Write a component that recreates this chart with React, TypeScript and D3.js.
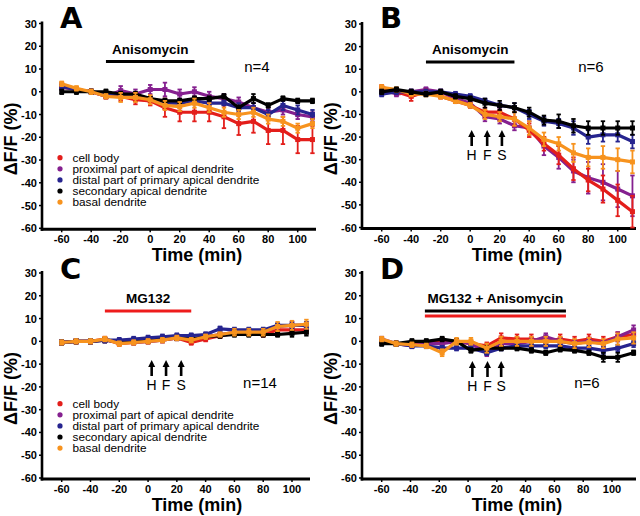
import React from "react";
import * as d3 from "d3";

const TIMES = [-60, -50, -40, -30, -20, -10, 0, 10, 20, 30, 40, 50, 60, 70, 80, 90, 100, 110];
const TIMES_D = [-60, -50, -39, -29, -18, -8, 2, 13, 23, 34, 44, 54, 64, 74, 84, 94, 104, 115];
const X_TICKS = [-60, -40, -20, 0, 20, 40, 60, 80, 100];
const Y_TICKS = [30, 20, 10, 0, -10, -20, -30, -40, -50, -60];

const SERIES_NAMES = [
  "cell body",
  "proximal part of apical dendrite",
  "distal part of primary apical dendrite",
  "secondary apical dendrite",
  "basal dendrite",
];
const SERIES_COLORS = ["#e31e1b", "#85208f", "#26248f", "#000000", "#f7931e"];

// Panel A
const A_CELL = [2, 1, 0, -2, -2, -3.5, -4, -7, -9, -9, -9, -11, -14, -13, -17, -17, -21, -21];
const A_PROX = [3, 1, 0, -2, 0.5, -1, 1, 1, -1, 0, -2, -3, -4.5, -7, -9, -8, -10, -11];
const A_DIST = [2, 1, 0, -1, -1, -2, -3, -5, -5, -4, -5, -5, -7, -7, -10, -6, -8, -10];
const A_SEC = [0, 0, 0, 0, -1, -1, -3, -4, -4, -3, -3, -2, -7, -3, -6, -3, -4, -4];
const A_BASAL = [3.5, 1.5, 0, -2, -2.5, -2.5, -3.5, -6, -6.5, -5, -7, -9, -10, -9, -12, -13, -16, -14];
const A_CELL_ERR = [1, 1, 1, 1, 2, 2, 2, 4, 4, 4, 4, 5, 5, 5, 6, 6, 6, 6];
const A_PROX_ERR = [1, 1, 1, 1, 2, 2, 2, 3, 2, 2, 2, 2, 2, 2, 2, 2, 2, 2];
const A_DIST_ERR = [1, 1, 1, 1, 1, 1, 1, 1, 1, 1, 1, 1, 2, 2, 2, 2, 2, 2];
const A_SEC_ERR = [1, 1, 1, 1, 1, 1, 1, 1, 1, 1, 1, 1, 1, 2, 1, 1, 1, 1];
const A_BASAL_ERR = [1, 1, 1, 1, 2, 2, 2, 2, 2, 2, 2, 2, 2, 2, 2, 2, 2, 2];

// Panel B
const B_CELL = [2, 0, -2, 0, -2, -4, -6, -9, -9, -12, -17, -23, -28, -34, -39, -43, -48, -53];
const B_PROX = [1, -1, 0, 1, 0, -3, -5, -11, -12, -15, -16, -24, -29, -35, -38, -40, -43, -46];
const B_DIST = [-1, 0, 0, 0, 0, -1, -2, -4, -6, -7, -10, -13, -14, -16, -20, -19, -19, -22];
const B_SEC = [0, 1, 0, -1, 0, -2, -3, -5, -6, -7, -9, -12.5, -13, -15, -16, -16, -16, -16];
const B_BASAL = [2, 1, -1, -1, -2, -4, -6, -10, -11, -12, -16, -21, -23, -27, -29, -29, -30, -31];
const B_CELL_ERR = [1, 1, 2, 1, 1, 1, 1, 2, 2, 3, 3, 3, 4, 5, 5, 6, 7, 7];
const B_PROX_ERR = [1, 1, 1, 1, 1, 1, 2, 2, 2, 2, 3, 4, 5, 5, 7, 8, 8, 9];
const B_DIST_ERR = [1, 1, 1, 1, 1, 1, 1, 1, 1, 2, 2, 2, 2, 3, 3, 3, 3, 3];
const B_SEC_ERR = [1, 1, 1, 1, 1, 1, 1, 2, 2, 2, 2, 2, 3, 3, 3, 3, 3, 3];
const B_BASAL_ERR = [1, 1, 1, 1, 1, 1, 1, 2, 2, 3, 3, 3, 3, 4, 4, 5, 5, 5];

// Panel C
const C_CELL = [-0.5, 0, 0, 1, -1, -0.5, 0, 0.5, 1.5, -0.5, 1, 2.5, 3.5, 3.5, 3, 5, 5, 5];
const C_PROX = [-0.5, 0, 0, 0.5, -0.5, -0.5, 0, 0.5, 1.5, 1, 2, 3, 4, 4, 4, 6.5, 7, 7];
const C_DIST = [-0.5, 0, 0, 0.5, 0.5, 1, 1.5, 2, 2.5, 2.5, 3, 5.5, 5, 5, 5, 7, 7, 7];
const C_SEC = [-0.5, 0, 0, 0.5, 0, 0.5, 0.5, 1, 1.5, 1, 2, 2.5, 3, 3, 3, 3, 3.5, 4];
const C_BASAL = [-0.5, 0, 0, 1, -1, -0.5, 0, 0.5, 1.5, 0.5, 2, 3, 4, 4, 4, 6.5, 7, 7.5];
const C_CELL_ERR = [1, 1, 1, 1, 1, 1, 1, 1, 1, 1, 1, 1, 1, 1, 1, 1, 1.5, 1.5];
const C_PROX_ERR = [1, 1, 1, 1, 1, 1, 1, 1, 1, 1, 1, 1, 1, 1, 1, 1, 1.5, 1.5];
const C_DIST_ERR = [1, 1, 1, 1, 1, 1, 1, 1, 1, 1, 1, 1, 1, 1, 1, 1, 1.5, 1.5];
const C_SEC_ERR = [1, 1, 1, 1, 1, 1, 1, 1, 1, 1, 1, 1, 1, 1, 1, 1, 1.5, 1.5];
const C_BASAL_ERR = [1, 1, 1, 1, 1, 1, 1, 1, 1, 1, 1, 1, 1.5, 1.5, 1.5, 2, 2, 2];

// Panel D
const D_CELL = [0, -1, -1, -1, 0, 0, -1, -2, 1.5, 1, 1, 0, 1, 0, 1, 0, 2, 3];
const D_PROX = [1, -1, -2, -1, -1, 0, -1, -5, -1, -1, 0, 2, 0, -1, 0, -1, 2, 5];
const D_DIST = [0, -1, -2, -2, -3, -3, -3, -5, -3, -2, -2, -2, -2, -3, -3, -4, -3, -1];
const D_SEC = [-1, -1, 0, 0, 1, 0, -4, -3, -3, -3, -4, -5, -3.5, -4, -5, -7, -7, -5];
const D_BASAL = [1, -1, -1.5, -2, -5, 0, 0, -3, 0, 0, 0, 0, 0, -1, -0.5, -1, 1, 1.5];
const D_CELL_ERR = [1, 1, 1, 1, 1.5, 1, 1, 1.5, 2, 2, 2, 2, 2, 2, 2, 2, 2, 2];
const D_PROX_ERR = [1, 1, 1, 1, 1, 1, 1, 1.5, 1.5, 1.5, 1.5, 1.5, 1.5, 1.5, 1.5, 1.5, 2, 2];
const D_DIST_ERR = [1, 1, 1, 1, 1, 1, 1, 1, 1, 1, 1, 1, 1, 1, 1, 1.5, 1.5, 1.5];
const D_SEC_ERR = [1, 1, 1, 1, 1, 1, 1, 1, 1, 1, 1, 1, 1, 1, 1, 2, 2, 1];
const D_BASAL_ERR = [1, 1, 1, 1, 1.5, 1.5, 1.5, 2, 2, 2, 2, 2, 2, 2, 2, 2, 2.5, 2.5];

const FONT = "'Liberation Sans', Arial, Helvetica, sans-serif";

type PanelProps = {
  letter: string;
  ox: number;
  oy: number;
  xr: [number, number];
  yr: [number, number];
  axisEnd: number;
  times: number[];
  values: number[][];
  errors: number[][];
  order: number[];
  drug: string;
  bars: { color: string; from: number; to: number; dy: number }[];
  nLabel: string;
  nPos: [number, number];
  arrows: number[] | null;
  arrowY: number;
  legendY: number | null;
};

function Panel(p: PanelProps) {
  const x = d3.scaleLinear().domain([-60, 100]).range(p.xr);
  const y = d3.scaleLinear().domain([-60, 30]).range(p.yr);
  const axX = p.ox + 42;
  const axY = y(-60) + 1;
  const line = d3
    .line<[number, number]>()
    .x((d) => x(d[0]))
    .y((d) => y(d[1]));
  const barY = y(30) + 38;
  return (
    <g fontFamily={FONT}>
      <text x={p.ox + 60} y={p.oy + 28} fontSize={29} fontWeight="bold" fontFamily="'DejaVu Sans', sans-serif">
        {p.letter}
      </text>
      {/* y axis */}
      <line x1={axX} x2={axX} y1={y(30) - 2} y2={axY + 1.5} stroke="#000" strokeWidth={2.6} />
      <line x1={axX - 1.3} x2={p.ox + p.axisEnd} y1={axY} y2={axY} stroke="#000" strokeWidth={3} />
      {Y_TICKS.map((t) => (
        <g key={"y" + t}>
          <line x1={axX - 3} x2={axX} y1={y(t)} y2={y(t)} stroke="#000" strokeWidth={1.5} />
          <text x={axX - 5} y={y(t) + 4} textAnchor="end" fontSize={11} fontWeight="bold">
            {t}
          </text>
        </g>
      ))}
      {X_TICKS.map((t) => (
        <g key={"x" + t}>
          <line x1={x(t)} x2={x(t)} y1={axY} y2={axY + 3} stroke="#000" strokeWidth={1.5} />
          <text x={x(t)} y={axY + 14} textAnchor="middle" fontSize={11} fontWeight="bold">
            {t}
          </text>
        </g>
      ))}
      <text
        transform={`translate(${p.ox + 17},${(y(30) + y(-60)) / 2 + 13}) rotate(-90)`}
        textAnchor="middle"
        fontSize={18}
        fontWeight="bold"
      >
        ΔF/F (%)
      </text>
      <text x={p.ox + 197} y={axY + 32} textAnchor="middle" fontSize={18} fontWeight="bold">
        Time (min)
      </text>
      {/* drug label */}
      <text x={(x(p.bars[0].from) + x(p.bars[0].to)) / 2} y={barY - 8} textAnchor="middle" fontSize={13.5} fontWeight="bold">
        {p.drug}
      </text>
      {p.bars.map((b, i) => (
        <line key={"b" + i} x1={x(b.from)} x2={x(b.to)} y1={barY + b.dy} y2={barY + b.dy} stroke={b.color} strokeWidth={3} />
      ))}
      <text x={p.nPos[0]} y={p.nPos[1]} textAnchor="middle" fontSize={15}>
        {p.nLabel}
      </text>
      {/* series */}
      {p.order.map((si) => {
        const vals = p.values[si];
        const errs = p.errors[si];
        const pts = p.times.map((t, i) => [t, vals[i]] as [number, number]);
        const c = SERIES_COLORS[si];
        return (
          <g key={"s" + si}>
            {pts.map((d, i) => (
              <g key={i}>
                <line x1={x(d[0])} x2={x(d[0])} y1={y(d[1] - errs[i])} y2={y(d[1] + errs[i])} stroke={c} strokeWidth={1.8} />
                <line x1={x(d[0]) - 2.2} x2={x(d[0]) + 2.2} y1={y(d[1] + errs[i])} y2={y(d[1] + errs[i])} stroke={c} strokeWidth={1.8} />
                <line x1={x(d[0]) - 2.2} x2={x(d[0]) + 2.2} y1={y(d[1] - errs[i])} y2={y(d[1] - errs[i])} stroke={c} strokeWidth={1.8} />
              </g>
            ))}
            <path d={line(pts) || ""} fill="none" stroke={c} strokeWidth={3.2} strokeLinejoin="round" />
            {pts.map((d, i) => (
              <rect key={"m" + i} x={x(d[0]) - 2.5} y={y(d[1]) - 2.5} width={5} height={5} fill={c} />
            ))}
          </g>
        );
      })}
      {/* arrows */}
      {p.arrows &&
        p.arrows.map((t, i) => (
          <g key={"a" + i}>
            <line x1={x(t)} x2={x(t)} y1={p.arrowY + 5} y2={p.arrowY + 16} stroke="#000" strokeWidth={2.6} />
            <path
              d={`M${x(t)},${p.arrowY} L${x(t) - 3.5},${p.arrowY + 7} L${x(t) + 3.5},${p.arrowY + 7} Z`}
              fill="#000"
            />
            <text x={x(t)} y={p.arrowY + 30} textAnchor="middle" fontSize={14}>
              {["H", "F", "S"][i]}
            </text>
          </g>
        ))}
      {/* legend */}
      {p.legendY !== null &&
        SERIES_NAMES.map((n, i) => (
          <g key={"l" + i}>
            <circle cx={p.ox + 60} cy={(p.legendY as number) + i * 11.1} r={2.6} fill={SERIES_COLORS[i]} />
            <text x={p.ox + 72.5} y={(p.legendY as number) + i * 11.1 + 4} fontSize={11.8}>
              {n}
            </text>
          </g>
        ))}
    </g>
  );
}

export default function App() {
  return (
    <svg width={640} height={516} style={{ position: "absolute", left: 0, top: 0, background: "#fff" }}>
      <rect width={640} height={516} fill="#fff" />
      <Panel
        letter="A"
        ox={0}
        oy={0}
        xr={[61.7, 297.7]}
        yr={[228.3, 23.5]}
        axisEnd={316}
        times={TIMES}
        values={[A_CELL, A_PROX, A_DIST, A_SEC, A_BASAL]}
        errors={[A_CELL_ERR, A_PROX_ERR, A_DIST_ERR, A_SEC_ERR, A_BASAL_ERR]}
        order={[0, 1, 2, 3, 4]}
        drug="Anisomycin"
        bars={[{ color: "#000", from: -30, to: 30, dy: 0 }]}
        nLabel="n=4"
        nPos={[257, 72]}
        arrows={null}
        arrowY={0}
        legendY={157.7}
      />
      <Panel
        letter="B"
        ox={320}
        oy={0}
        xr={[381.7, 617.7]}
        yr={[227.5, 24]}
        axisEnd={316}
        times={TIMES}
        values={[B_CELL, B_PROX, B_DIST, B_SEC, B_BASAL]}
        errors={[B_CELL_ERR, B_PROX_ERR, B_DIST_ERR, B_SEC_ERR, B_BASAL_ERR]}
        order={[1, 0, 2, 4, 3]}
        drug="Anisomycin"
        bars={[{ color: "#000", from: -30, to: 30, dy: 0 }]}
        nLabel="n=6"
        nPos={[591, 72]}
        arrows={[1, 11.5, 21.5]}
        arrowY={130}
        legendY={null}
      />
      <Panel
        letter="C"
        ox={0}
        oy={251}
        xr={[61.7, 292]}
        yr={[478, 273]}
        axisEnd={310}
        times={TIMES}
        values={[C_CELL, C_PROX, C_DIST, C_SEC, C_BASAL]}
        errors={[C_CELL_ERR, C_PROX_ERR, C_DIST_ERR, C_SEC_ERR, C_BASAL_ERR]}
        order={[0, 1, 3, 2, 4]}
        drug="MG132"
        bars={[{ color: "#ee1c1c", from: -30, to: 30, dy: 0 }]}
        nLabel="n=14"
        nPos={[260, 388]}
        arrows={[2.5, 12.5, 23]}
        arrowY={360}
        legendY={403.7}
      />
      <Panel
        letter="D"
        ox={320}
        oy={251}
        xr={[381.7, 612]}
        yr={[478, 273]}
        axisEnd={316}
        times={TIMES_D}
        values={[D_CELL, D_PROX, D_DIST, D_SEC, D_BASAL]}
        errors={[D_CELL_ERR, D_PROX_ERR, D_DIST_ERR, D_SEC_ERR, D_BASAL_ERR]}
        order={[0, 1, 2, 3, 4]}
        drug="MG132 + Anisomycin"
        bars={[
          { color: "#000", from: -30, to: 68, dy: 0 },
          { color: "#ee1c1c", from: -30, to: 68, dy: 5 },
        ]}
        nLabel="n=6"
        nPos={[587, 388]}
        arrows={[3, 13.5, 23]}
        arrowY={361}
        legendY={null}
      />
    </svg>
  );
}
